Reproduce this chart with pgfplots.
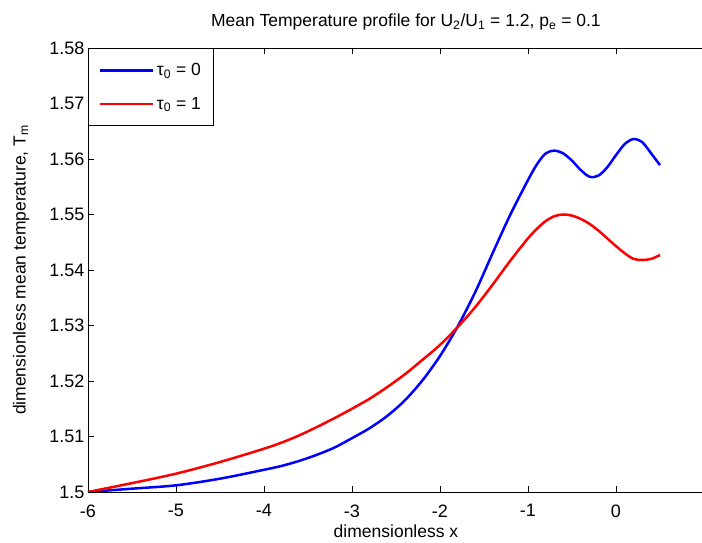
\documentclass[border=0pt]{standalone}
\usepackage{fontspec}
\setmainfont{Liberation Sans}
\usepackage{pgfplots}
\pgfplotsset{compat=1.18}

% tau_0 = 0
\pgfplotstableread{
x T
-6.0 1.5000
-5.5 1.5006
-5.0 1.5012
-4.5 1.5024
-4.0 1.5040
-3.8 1.5047
-3.6 1.5056
-3.4 1.5067
-3.2 1.5080
-3.0 1.5097
-2.8 1.5115
-2.6 1.5137
-2.4 1.5165
-2.2 1.5201
-2.0 1.5245
-1.8 1.5298
-1.6 1.5360
-1.4 1.5431
-1.2 1.5500
-1.0 1.5562
-0.9 1.5590
-0.8 1.5610
-0.7 1.5615
-0.6 1.5610
-0.5 1.5597
-0.4 1.5580
-0.3 1.5568
-0.2 1.5570
-0.1 1.5585
0.0 1.5607
0.1 1.5627
0.2 1.5636
0.3 1.5630
0.4 1.5610
0.5 1.5589
}\tauzero

% tau_0 = 1
\pgfplotstableread{
x T
-6.0 1.5000
-5.5 1.5016
-5.0 1.5033
-4.5 1.5054
-4.0 1.5078
-3.8 1.5089
-3.6 1.5102
-3.4 1.5117
-3.2 1.5133
-3.0 1.5150
-2.8 1.5168
-2.6 1.5189
-2.4 1.5212
-2.2 1.5238
-2.0 1.5265
-1.8 1.5297
-1.6 1.5333
-1.4 1.5374
-1.2 1.5417
-1.0 1.5457
-0.9 1.5474
-0.8 1.5488
-0.7 1.5497
-0.6 1.5500
-0.5 1.5498
-0.4 1.5492
-0.3 1.5483
-0.2 1.5471
-0.1 1.5457
0.0 1.5443
0.1 1.5430
0.2 1.5420
0.3 1.5418
0.4 1.5420
0.5 1.5427
}\tauone

\begin{document}
\begin{tikzpicture}
  \begin{axis}[
    scale only axis,
    width=616pt, height=444pt,
    xmin=-6, xmax=1,
    ymin=1.5, ymax=1.58,
    xtick={-6,-5,-4,-3,-2,-1,0},
    ytick={1.5,1.51,1.52,1.53,1.54,1.55,1.56,1.57,1.58},
    scaled y ticks=false,
    xtick pos=both, ytick pos=left,
    tick align=inside,
    major tick length=6pt,
    tick style={black, line width=0.7pt},
    axis line style={line width=0.9pt},
    /pgf/number format/assume math mode=true,
    ticklabel style={font=\fontsize{18}{21}\selectfont},
    xticklabel style={yshift=-9pt},
    xlabel={dimensionless x},
    ylabel={dimensionless mean temperature, T\textsubscript{m}},
    label style={font=\fontsize{17.5}{20}\selectfont},
    xlabel style={at={(axis description cs:0.5,-0.0878)}, anchor=center},
    ylabel style={at={(axis description cs:-0.1088,0.5)}, anchor=center},
    title={Mean Temperature profile for U\textsubscript{2}/U\textsubscript{1} = 1.2, p\textsubscript{e} = 0.1},
    title style={font=\fontsize{17.5}{20}\selectfont,
      at={(axis description cs:0.516,1.045)}, anchor=center},
    legend cell align=left,
    legend style={at={(0,1)}, anchor=north west, draw=black, line width=0.9pt,
      fill=white, font=\fontsize{17.5}{20}\selectfont, inner xsep=10pt, inner ysep=12pt,
      row sep=14pt, nodes={inner sep=3pt}},
    legend image code/.code={\draw[#1] (0pt,0pt) -- (53pt,0pt);},
  ]
    \addplot[blue, line width=2.5pt, smooth] table {\tauzero};
    \addlegendentry{τ\textsubscript{0} = 0}
    \addplot[red, line width=2.5pt, smooth] table {\tauone};
    \addlegendentry{τ\textsubscript{0} = 1}
    \coordinate (bl) at (rel axis cs:0,0);
  \end{axis}
  \pgfresetboundingbox
  \useasboundingbox ([shift={(-88pt,-51pt)}]bl) rectangle ([shift={(614pt,492pt)}]bl);
\end{tikzpicture}
\end{document}
